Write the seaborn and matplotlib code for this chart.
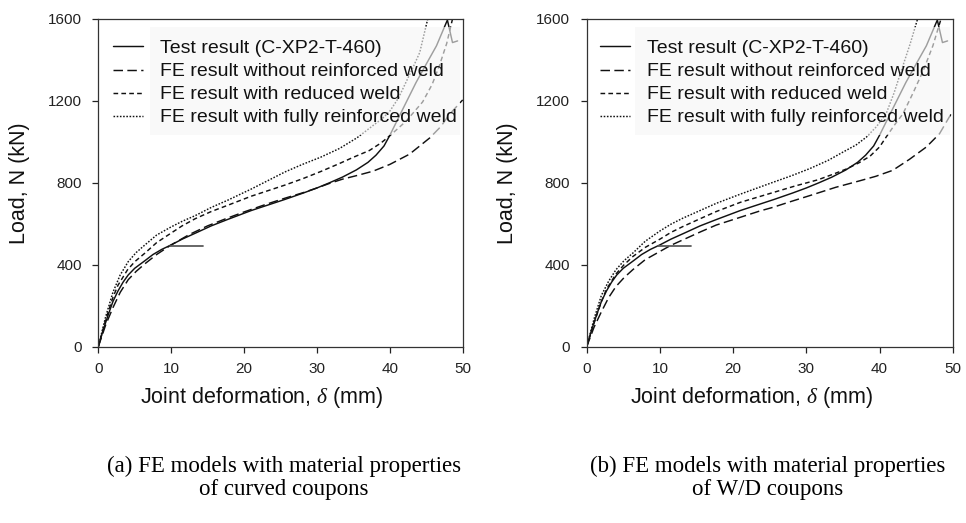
import numpy as np
import pandas as pd
import matplotlib
matplotlib.use("Agg")
import matplotlib.pyplot as plt
from matplotlib.patches import Rectangle
import seaborn as sns

# ---------------- data ----------------
# Test result (same specimen in both panels)
delta_test = [0, 0.7, 1.4, 2.0, 2.7, 3.4, 4.1, 5.0, 6.4, 7.5, 8.7, 10.0, 11.5, 13.3, 15.5, 17.8, 21.0,
              25.6, 28.1, 30.0, 31.7, 33.5, 35.4, 37.0, 38.1, 39.2, 40.0, 41.5, 43.6, 45.0, 46.4, 47.9, 48.6, 49.3]
load_test = [0, 85, 160, 220, 272, 315, 350, 383, 420, 450, 475, 497, 525, 554, 590, 622, 665,
             719, 750, 775, 800, 828, 863, 900, 935, 980, 1032, 1140, 1290, 1380, 1469, 1595, 1485, 1493]
delta_test_unload = [9.8, 14.3]
load_test_unload = [493, 493]

# (a) curved coupons
delta_a_without = [0, 1.0, 2.0, 3.0, 4.1, 5.2, 6.4, 8.0, 10.0, 12.5, 15.0, 17.5, 20.0, 23.0, 25.6, 28.1,
                   30.0, 31.7, 33.5, 35.4, 37.7, 40.0, 42.7, 45.5, 47.0, 48.2, 50.0]
load_a_without = [0, 105, 190, 265, 327, 368, 405, 450, 497, 548, 590, 625, 658, 695, 725, 752,
                  775, 797, 818, 835, 857, 890, 940, 1020, 1075, 1135, 1205]
delta_a_reduced = [0, 1.0, 2.0, 2.7, 4.0, 5.0, 6.4, 8.0, 10.0, 11.5, 13.3, 15.5, 17.8, 21.0, 25.6, 28.1,
                   30.5, 33.0, 35.0, 37.2, 38.8, 40.0, 42.2, 44.5, 45.8, 46.8, 47.8, 48.6]
load_a_reduced = [0, 130, 240, 300, 375, 415, 457, 508, 555, 590, 625, 660, 691, 735, 789, 821,
                  855, 893, 925, 958, 995, 1030, 1100, 1195, 1280, 1372, 1480, 1600]
delta_a_full = [0, 1.0, 2.0, 3.0, 4.1, 5.2, 6.4, 8.0, 10.0, 11.5, 13.3, 15.5, 17.8, 21.0, 25.6, 28.0,
                30.5, 33.1, 35.5, 37.7, 39.0, 40.0, 41.2, 42.2, 43.2, 44.1, 45.2]
load_a_full = [0, 145, 265, 350, 415, 460, 497, 545, 585, 612, 640, 680, 716, 770, 853, 890,
               925, 968, 1020, 1080, 1115, 1150, 1215, 1290, 1365, 1436, 1600]

# (b) W/D coupons
delta_b_without = [0, 1.0, 2.0, 3.0, 4.0, 5.1, 6.3, 8.0, 10.0, 11.5, 13.1, 15.5, 17.7, 21.0, 23.6, 25.4,
                   28.0, 30.5, 34.0, 37.3, 39.5, 41.8, 44.1, 46.4, 48.2, 50.0]
load_b_without = [0, 95, 170, 240, 294, 337, 376, 425, 465, 495, 521, 560, 594, 632, 662, 680,
                  710, 738, 778, 810, 832, 861, 915, 975, 1040, 1150]
delta_b_reduced = [0, 1.0, 2.0, 2.7, 4.0, 5.1, 6.3, 8.0, 10.0, 11.5, 13.1, 15.5, 17.7, 21.0, 25.4, 28.5,
                   31.6, 33.5, 35.5, 37.2, 38.7, 40.0, 40.9, 42.0, 43.2, 44.6, 46.0, 47.3, 48.4]
load_b_reduced = [0, 115, 220, 280, 355, 400, 440, 485, 525, 558, 586, 625, 660, 705, 752, 785,
                  815, 840, 868, 898, 930, 975, 1023, 1080, 1137, 1240, 1350, 1470, 1600]
delta_b_full = [0, 1.0, 2.0, 3.0, 4.0, 5.1, 6.3, 8.0, 10.0, 11.5, 13.1, 15.5, 17.7, 21.0, 25.4, 28.0,
                30.5, 33.0, 35.0, 36.8, 38.2, 39.6, 40.9, 42.0, 43.0, 44.2, 45.2]
load_b_full = [0, 135, 250, 320, 376, 420, 457, 515, 565, 598, 627, 665, 700, 745, 802, 835,
               870, 910, 950, 985, 1023, 1075, 1137, 1240, 1350, 1480, 1600]

labels = ["Test result (C-XP2-T-460)",
          "FE result without reinforced weld",
          "FE result with reduced weld",
          "FE result with fully reinforced weld"]
x_ticks = [0, 10, 20, 30, 40, 50]
y_ticks = [0, 400, 800, 1200, 1600]
x_label = "Joint deformation, $\\delta$ (mm)"
y_label = "Load, N (kN)"
captions = ["(a) FE models with material properties\nof curved coupons",
            "(b) FE models with material properties\nof W/D coupons"]

# ---------------- style ----------------
sns.set_theme(style="ticks")
plt.rcParams["font.family"] = ["Liberation Sans", "DejaVu Sans"]
plt.rcParams["mathtext.fontset"] = "custom"
plt.rcParams["mathtext.it"] = "Liberation Serif:italic"
plt.rcParams["mathtext.rm"] = "Liberation Sans"

W, H = 966, 523
fig = plt.figure(figsize=(W / 100, H / 100), dpi=100)

def axes_rect(x0, x1, y_top, y_bot):
    return [x0 / W, 1 - y_bot / H, (x1 - x0) / W, (y_bot - y_top) / H]

ax_a = fig.add_axes(axes_rect(98.3, 462.7, 19.0, 346.7))
ax_b = fig.add_axes(axes_rect(586.7, 952.7, 19.0, 346.7))

styles = [
    dict(linestyle="-"),
    dict(linestyle=(0, (6.5, 3.0))),
    dict(linestyle=(0, (3.2, 2.2))),
    dict(linestyle=(0, (1.1, 1.1))),
]
LW = 1.05

panels = [
    (ax_a, [(delta_test, load_test), (delta_a_without, load_a_without),
            (delta_a_reduced, load_a_reduced), (delta_a_full, load_a_full)], 0.040, 0.142),
    (ax_b, [(delta_test, load_test), (delta_b_without, load_b_without),
            (delta_b_reduced, load_b_reduced), (delta_b_full, load_b_full)], 0.036, 0.133),
]

for ax, series, leg_x, box_x in panels:
    for (xs, ys), lab, st in zip(series, labels, styles):
        df = pd.DataFrame({"delta": xs, "load": ys})
        sns.lineplot(data=df, x="delta", y="load", ax=ax, color="#111111",
                     linewidth=LW, estimator=None, sort=False, label=lab, **st)
    dfu = pd.DataFrame({"delta": delta_test_unload, "load": load_test_unload})
    sns.lineplot(data=dfu, x="delta", y="load", ax=ax, color="#555555",
                 linewidth=LW * 1.2, estimator=None, sort=False)

    ax.set_xlim(0, 50)
    ax.set_ylim(0, 1600)
    ax.set_xticks(x_ticks)
    ax.set_yticks(y_ticks)
    ax.tick_params(axis="both", direction="out", length=4.5, width=0.9,
                   labelsize=11, colors="#222222")
    ax.tick_params(axis="y", pad=7.5)
    ax.tick_params(axis="x", pad=6.5)
    ax.tick_params(top=False, right=False)
    for sp in ax.spines.values():
        sp.set_visible(True)
        sp.set_color("#333333")
        sp.set_linewidth(0.9)
    ax.set_xlabel(x_label, fontsize=15.5, color="#111111")
    ax.set_ylabel(y_label, fontsize=15.5, color="#111111")
    ax.xaxis.set_label_coords(0.45, -0.117)
    ax.yaxis.set_label_coords(-0.187, 0.5)

    # translucent panel behind legend texts (greys the curves underneath)
    ax.add_patch(Rectangle((box_x, 0.646), 0.992 - box_x, 0.975 - 0.646,
                           transform=ax.transAxes, facecolor="#f6f6f6",
                           edgecolor="none", alpha=0.62, zorder=4))

    leg = ax.legend(loc="upper left", bbox_to_anchor=(leg_x, 0.937),
                    frameon=False, fontsize=14, handlelength=1.55,
                    handletextpad=0.85, labelspacing=0.28, borderpad=0,
                    borderaxespad=0)
    leg.set_zorder(5)
    for t in leg.get_texts():
        t.set_color("#111111")

# captions
cap_font = dict(family=["Liberation Serif", "DejaVu Serif"], fontsize=16.5,
                ha="center", va="center", linespacing=1.15, color="black")
fig.text(284 / W, 1 - 478 / H, captions[0], **cap_font)
fig.text(768 / W, 1 - 478 / H, captions[1], **cap_font)

fig.savefig("out.png", dpi=100)
